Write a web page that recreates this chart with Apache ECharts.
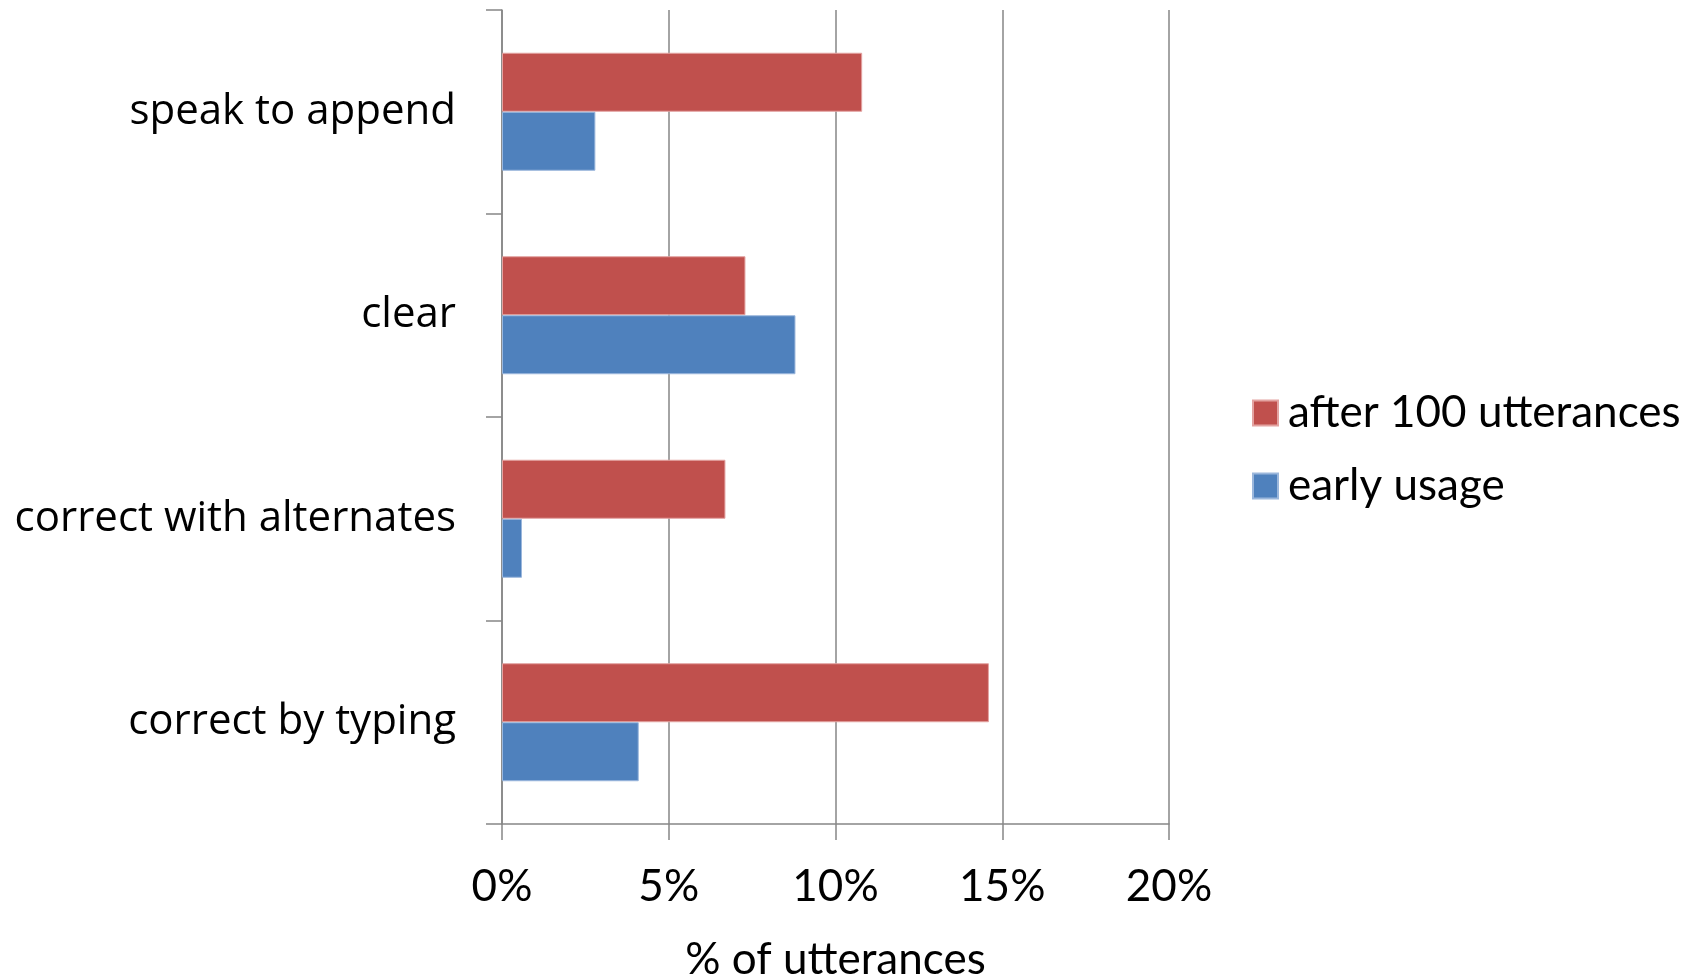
<!DOCTYPE html>
<html>
<head>
<meta charset="utf-8">
<style>
  html, body { margin: 0; padding: 0; background: #ffffff; }
  #chart { width: 1707px; height: 979px; }
</style>
<script src="https://cdn.jsdelivr.net/npm/echarts@6/dist/echarts.min.js"></script>
</head>
<body>
<div id="chart"></div>
<script>
// Correction actions, top to bottom
const categories = ['speak to append', 'clear', 'correct with alternates', 'correct by typing'];
// Share of utterances (%) for each action
const after100 = [10.8, 7.3, 6.7, 14.6];
const earlyUsage = [2.8, 8.8, 0.6, 4.1];
const seriesNames = ['after 100 utterances', 'early usage'];
const xTicks = [0, 5, 10, 15, 20];
const xTitle = '% of utterances';

const AXIS_GREY = '#868686';
const RED = '#C0504D';
const BLUE = '#4F81BD';
const LABEL_FONT = '"Open Sans", "DejaVu Sans", sans-serif';
const TICK_FONT = 'Lato, "Open Sans", sans-serif';

const chart = echarts.init(document.getElementById('chart'), null, { renderer: 'canvas' });

chart.setOption({
  animation: false,
  backgroundColor: '#ffffff',
  grid: { left: 502, right: 538, top: 10, bottom: 155, containLabel: false, outerBoundsMode: 'none' },
  legend: {
    orient: 'vertical',
    left: 1252,
    top: 390,
    padding: 0,
    data: seriesNames,
    icon: 'rect',
    itemWidth: 25,
    itemHeight: 25,
    itemGap: 27,
    textStyle: { fontFamily: TICK_FONT, fontSize: 44, color: '#000', lineHeight: 46, padding: [0, 0, 0, 5] }
  },
  xAxis: {
    type: 'value',
    min: xTicks[0],
    max: xTicks[xTicks.length - 1],
    interval: xTicks[1] - xTicks[0],
    name: xTitle,
    nameLocation: 'middle',
    nameGap: 114,
    nameTextStyle: { fontFamily: TICK_FONT, fontSize: 44, color: '#000' },
    axisLine: { show: true, lineStyle: { color: AXIS_GREY, width: 1.5 } },
    axisTick: { show: true, length: 16, lineStyle: { color: AXIS_GREY, width: 1.5 } },
    axisLabel: { formatter: '{value}%', fontFamily: TICK_FONT, fontSize: 44, color: '#000', margin: 41 },
    splitLine: { show: true, lineStyle: { color: AXIS_GREY, width: 1.5 } }
  },
  yAxis: {
    type: 'category',
    data: categories,
    inverse: true,
    axisLine: { show: true, lineStyle: { color: AXIS_GREY, width: 1.5 } },
    axisTick: { show: true, length: 16, lineStyle: { color: AXIS_GREY, width: 1.5 } },
    axisLabel: { fontFamily: LABEL_FONT, fontSize: 42, color: '#000', margin: 46 },
    splitLine: { show: false }
  },
  series: [
    {
      name: seriesNames[0],
      type: 'bar',
      data: after100,
      barGap: '0%',
      barCategoryGap: '42%',
      itemStyle: { color: RED, borderColor: '#e3a3a1', borderWidth: 1 }
    },
    {
      name: seriesNames[1],
      type: 'bar',
      data: earlyUsage,
      barGap: '0%',
      barCategoryGap: '42%',
      itemStyle: { color: BLUE, borderColor: '#9bb7dc', borderWidth: 1 }
    }
  ]
});
</script>
</body>
</html>
